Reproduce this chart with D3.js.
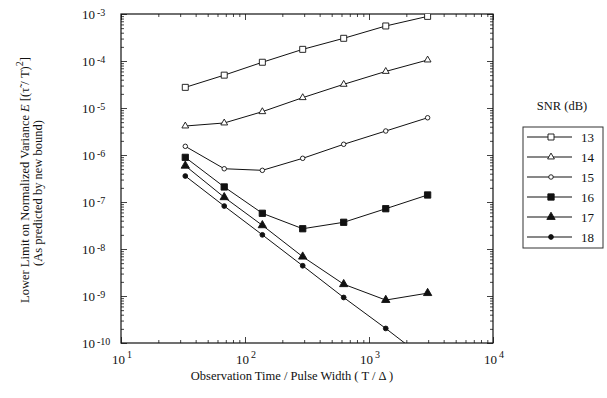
<!DOCTYPE html>
<html>
<head>
<meta charset="utf-8">
<script src="https://cdn.jsdelivr.net/npm/d3@7"></script>
<style>
  body { margin: 0; background: #fff; }
  svg, svg text { font-family: "Liberation Serif", "DejaVu Serif", serif; }
</style>
</head>
<body>
<div id="chart"></div>
<script>
// observation time / pulse width (T / Delta)
const obsTime = [33, 68, 138, 292, 625, 1365, 2970];

// lower limit on normalized variance, one array per SNR (dB)
const snr13 = [2.75e-5, 5.0e-5, 9.4e-5, 1.77e-4, 3.04e-4, 5.56e-4, 8.9e-4];
const snr14 = [4.14e-6, 4.8e-6, 8.35e-6, 1.66e-5, 3.19e-5, 6.0e-5, 1.05e-4];
const snr15 = [1.53e-6, 5.1e-7, 4.72e-7, 8.5e-7, 1.69e-6, 3.24e-6, 6.2e-6];
const snr16 = [8.9e-7, 2.09e-7, 5.75e-8, 2.7e-8, 3.7e-8, 7.2e-8, 1.41e-7];
const snr17 = [5.9e-7, 1.26e-7, 3.19e-8, 6.86e-9, 1.78e-9, 8.2e-10, 1.15e-9];
const snr18 = [3.57e-7, 8.2e-8, 2.0e-8, 4.4e-9, 9.3e-10, 2.04e-10, 4.2e-11];

const snrLabels = ["13", "14", "15", "16", "17", "18"];
const xDecades = [10, 100, 1000, 10000];
const yDecades = [1e-3, 1e-4, 1e-5, 1e-6, 1e-7, 1e-8, 1e-9, 1e-10];

const series = [snr13, snr14, snr15, snr16, snr17, snr18].map((vals, i) => ({
  label: snrLabels[i],
  points: vals.map((v, j) => ({ t: obsTime[j], v }))
}));

// marker look per SNR
const markerStyle = {
  "13": { type: d3.symbolSquare, size: 36, filled: false },
  "14": { type: d3.symbolTriangle, size: 20, filled: false },
  "15": { type: d3.symbolCircle, size: 16, filled: false },
  "16": { type: d3.symbolSquare, size: 40, filled: true },
  "17": { type: d3.symbolTriangle, size: 30, filled: true },
  "18": { type: d3.symbolCircle, size: 18, filled: true }
};

const serif = "'Liberation Serif', 'DejaVu Serif', serif";
const width = 607, height = 398;
const svg = d3.select("#chart").append("svg")
  .attr("width", width)
  .attr("height", height)
  .attr("font-family", serif);

const x = d3.scaleLog().domain([10, 1e4]).range([121, 493]);
const y = d3.scaleLog().domain([1e-10, 1e-3]).range([343, 14]);

const allX = x.ticks();
const allY = y.ticks();
const isDecade = d => Math.abs(Math.log10(d) - Math.round(Math.log10(d))) < 1e-6;

// ticks on all four sides, pointing inward
function tickAxis(axisFn, scale, vals, size, tx, ty) {
  svg.append("g")
    .attr("transform", `translate(${tx},${ty})`)
    .call(axisFn(scale).tickValues(vals).tickSize(-size).tickFormat(""))
    .call(g => g.select(".domain").remove())
    .call(g => g.selectAll("line").attr("stroke", "#111").attr("stroke-width", 0.8));
}
const minorX = allX.filter(d => !isDecade(d));
const minorY = allY.filter(d => !isDecade(d));
tickAxis(d3.axisBottom, x, minorX, 3, 0, 343);
tickAxis(d3.axisBottom, x, xDecades, 6, 0, 343);
tickAxis(d3.axisTop, x, minorX, 3, 0, 14);
tickAxis(d3.axisTop, x, xDecades, 6, 0, 14);
tickAxis(d3.axisLeft, y, minorY, 3, 121, 0);
tickAxis(d3.axisLeft, y, yDecades, 6, 121, 0);
tickAxis(d3.axisRight, y, minorY, 3, 493, 0);
tickAxis(d3.axisRight, y, yDecades, 6, 493, 0);

// frame
svg.append("rect")
  .attr("x", x.range()[0]).attr("y", y.range()[1])
  .attr("width", x.range()[1] - x.range()[0])
  .attr("height", y.range()[0] - y.range()[1])
  .attr("fill", "none").attr("stroke", "#111").attr("stroke-width", 1.2);

// tick labels
const xl = svg.append("g").attr("font-size", 13).attr("fill", "#111");
xDecades.forEach(d => {
  const t = xl.append("text").attr("x", x(d) + 1).attr("y", 364).attr("text-anchor", "middle");
  t.append("tspan").text("10");
  t.append("tspan").attr("dx", 2).attr("dy", -6).attr("font-size", 10).text(Math.round(Math.log10(d)));
});
yDecades.forEach(d => {
  const t = xl.append("text").attr("x", 82).attr("y", y(d) + 5);
  t.append("tspan").text("10");
  t.append("tspan").attr("dx", 2).attr("dy", -3).attr("font-size", 10).text("-" + Math.round(-Math.log10(d)));
});

// axis titles
svg.append("text")
  .attr("x", 292).attr("y", 380)
  .attr("text-anchor", "middle").attr("font-size", 12.5).attr("fill", "#111")
  .text("Observation Time / Pulse Width  ( T / \u0394 )");

const yt = svg.append("text")
  .attr("transform", "translate(29,180) rotate(-90)")
  .attr("text-anchor", "middle").attr("font-size", 12.5).attr("fill", "#111");
yt.append("tspan").text("Lower Limit on Normalized Variance ");
yt.append("tspan").attr("font-style", "italic").text("E");
yt.append("tspan").text(" [(\u03C4\u0303 / T)");
yt.append("tspan").attr("dy", -6).attr("font-size", 10).text("2");
yt.append("tspan").attr("dy", 6).text("]");

svg.append("text")
  .attr("transform", "translate(42,193) rotate(-90)")
  .attr("text-anchor", "middle").attr("font-size", 12.5).attr("fill", "#111")
  .text("(As predicted by new bound)");

// data
svg.append("clipPath").attr("id", "plotClip")
  .append("rect")
  .attr("x", 121).attr("y", 14).attr("width", 372).attr("height", 329);

const line = d3.line().x(d => x(d.t)).y(d => y(d.v));
const plot = svg.append("g").attr("clip-path", "url(#plotClip)");

series.forEach(s => {
  plot.append("path")
    .datum(s.points)
    .attr("d", line)
    .attr("fill", "none").attr("stroke", "#111").attr("stroke-width", 1);
  const ms = markerStyle[s.label];
  plot.selectAll(null)
    .data(s.points)
    .join("path")
    .attr("transform", d => `translate(${x(d.t)},${y(d.v)})`)
    .attr("d", d3.symbol().type(ms.type).size(ms.size))
    .attr("fill", ms.filled ? "#111" : "#fff")
    .attr("stroke", "#111").attr("stroke-width", 0.9);
});

// legend
svg.append("text")
  .attr("x", 562).attr("y", 110)
  .attr("text-anchor", "middle").attr("font-size", 12.5).attr("fill", "#111")
  .text("SNR (dB)");

svg.append("rect")
  .attr("x", 523).attr("y", 127).attr("width", 80).attr("height", 121)
  .attr("fill", "none").attr("stroke", "#333").attr("stroke-width", 1);

const ly = d3.scalePoint().domain(snrLabels).range([137, 237]);
snrLabels.forEach(lab => {
  const ms = markerStyle[lab];
  const g = svg.append("g").attr("transform", `translate(0,${ly(lab)})`);
  g.append("line").attr("x1", 527).attr("x2", 572)
    .attr("stroke", "#111").attr("stroke-width", 1);
  g.append("path")
    .attr("transform", "translate(551,0)")
    .attr("d", d3.symbol().type(ms.type).size(ms.size))
    .attr("fill", ms.filled ? "#111" : "#fff")
    .attr("stroke", "#111").attr("stroke-width", 0.9);
  g.append("text").attr("x", 581).attr("y", 4.5)
    .attr("font-size", 13).attr("fill", "#111").text(lab);
});
</script>
</body>
</html>
